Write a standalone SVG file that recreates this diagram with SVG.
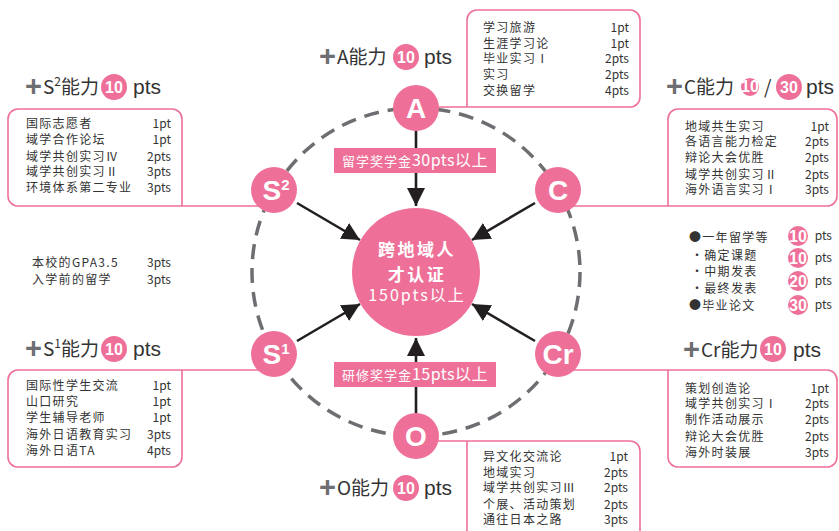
<svg xmlns="http://www.w3.org/2000/svg" width="839" height="531" viewBox="0 0 839 531">
<defs>
<marker id="ah" markerWidth="18" markerHeight="18" viewBox="0 0 18 18" refX="18" refY="9" orient="auto" markerUnits="userSpaceOnUse">
<path d="M0,0 L18,9 L0,18 Z" fill="#231f20"/>
</marker>
</defs>
<style>
text{font-family:"Noto Sans CJK SC","Liberation Sans",sans-serif;}
.pk{fill:#ee7099;}
.box{fill:none;stroke:#ee7099;stroke-width:1.6;}
.t{font-size:12px;fill:#333;letter-spacing:1.3px;}
.p{font-size:12px;fill:#333;text-anchor:end;}
.plus{font-size:29px;font-weight:bold;fill:#6d6e71;font-family:"Liberation Sans",sans-serif;}
.hd{font-size:19px;fill:#333;}
.pts{font-size:21px;fill:#333;font-family:"Liberation Sans",sans-serif;}
.num{font-size:16px;font-weight:bold;fill:#fff;text-anchor:middle;font-family:"Liberation Sans",sans-serif;}
.nl{font-size:28px;font-weight:bold;fill:#fff;text-anchor:middle;font-family:"Liberation Sans",sans-serif;}
.arr{stroke:#231f20;stroke-width:2.6;fill:none;marker-end:url(#ah);}
.lab{fill:#fff;font-size:13px;letter-spacing:1px;}
</style>
<rect width="839" height="531" fill="#fff"/>

<circle cx="416" cy="272" r="164" fill="none" stroke="#6d6e71" stroke-width="3.5" stroke-dasharray="15 9"/>

<g id="connectors">
<path class="box" d="M416,107 H630 A10,10 0 0 0 640,97 V20 A10,10 0 0 0 630,10 H477 A10,10 0 0 0 467,20 V107"/>
<path class="box" d="M274,206 H182 V119 A10,10 0 0 0 172,109 H18 A10,10 0 0 0 8,119 V196 A10,10 0 0 0 18,206 H182"/>
<path class="box" d="M558,206 H668 V119 A10,10 0 0 1 678,109 H827 A10,10 0 0 1 837,119 V196 A10,10 0 0 1 827,206 H668"/>
<path class="box" d="M274,370 H182 V457 A10,10 0 0 1 172,467 H18 A10,10 0 0 1 8,457 V380 A10,10 0 0 1 18,370 H182"/>
<path class="box" d="M558,370 H668 V457 A10,10 0 0 0 678,467 H827 A10,10 0 0 0 837,457 V380 A10,10 0 0 0 827,370 H668"/>
<path class="box" d="M416,441 H630 A10,10 0 0 1 640,451 V545 M467,441 V545"/>
<line class="arr" x1="416" y1="131" x2="416" y2="206"/>
<line class="arr" x1="416" y1="413" x2="416" y2="338"/>
<line class="arr" x1="297" y1="203" x2="360" y2="240"/>
<line class="arr" x1="535" y1="203" x2="472" y2="240"/>
<line class="arr" x1="297" y1="341" x2="360" y2="304"/>
<line class="arr" x1="535" y1="341" x2="472" y2="304"/>
</g>

<g id="center">
<circle class="pk" cx="416" cy="272" r="64"/>
<text x="417" y="256" text-anchor="middle" fill="#fff" font-size="17" font-weight="bold" letter-spacing="2.5">跨地域人</text>
<text x="417" y="281" text-anchor="middle" fill="#fff" font-size="17" font-weight="bold" letter-spacing="2.5">才认证</text>
<text x="417" y="301" text-anchor="middle" fill="#fff" font-size="16" letter-spacing="2">150pts以上</text>
</g>

<g id="label-top">
<rect class="pk" x="334" y="148" width="162" height="25"/>
<text x="415" y="166" text-anchor="middle" class="lab">留学奖学金<tspan font-size="16" letter-spacing="0.5">30pts以上</tspan></text>
</g>
<g id="label-bottom">
<rect class="pk" x="334" y="362" width="162" height="25"/>
<text x="415" y="380" text-anchor="middle" class="lab">研修奖学金<tspan font-size="16" letter-spacing="0.5">15pts以上</tspan></text>
</g>

<g id="node-A">
<circle class="pk" cx="416" cy="108" r="23"/>
<text class="nl" x="416" y="118">A</text>
</g>
<g id="node-S2">
<circle class="pk" cx="274" cy="190" r="23"/>
<text class="nl" x="276" y="200">S<tspan font-size="15" dy="-10">2</tspan></text>
</g>
<g id="node-C">
<circle class="pk" cx="558" cy="190" r="23"/>
<text class="nl" x="558" y="200">C</text>
</g>
<g id="node-S1">
<circle class="pk" cx="274" cy="354" r="23"/>
<text class="nl" x="276" y="364">S<tspan font-size="15" dy="-10">1</tspan></text>
</g>
<g id="node-Cr">
<circle class="pk" cx="558" cy="354" r="23"/>
<text class="nl" x="558" y="364">Cr</text>
</g>
<g id="node-O">
<circle class="pk" cx="416" cy="436" r="23"/>
<text class="nl" x="416" y="446">O</text>
</g>

<g id="header-A">
<text class="plus" x="319" y="66">+</text>
<text class="hd" x="337" y="64">A能力</text>
<circle class="pk" cx="406" cy="57" r="13"/>
<text class="num" x="406" y="63">10</text>
<text class="pts" x="424" y="64">pts</text>
</g>
<g id="box-A">
<text class="t" x="483" y="32">学习旅游</text><text class="p" x="629" y="32">1pt</text>
<text class="t" x="483" y="48">生涯学习论</text><text class="p" x="629" y="48">1pt</text>
<text class="t" x="483" y="63">毕业实习Ⅰ</text><text class="p" x="629" y="63">2pts</text>
<text class="t" x="483" y="79">实习</text><text class="p" x="629" y="79">2pts</text>
<text class="t" x="483" y="95">交换留学</text><text class="p" x="629" y="95">4pts</text>
</g>

<g id="header-S2">
<text class="plus" x="25" y="96">+</text>
<text class="hd" x="43" y="94">S<tspan font-size="12" dy="-8">2</tspan><tspan dy="8">能力</tspan></text>
<circle class="pk" cx="114" cy="87" r="13"/>
<text class="num" x="114" y="93">10</text>
<text class="pts" x="133" y="94">pts</text>
</g>
<g id="box-S2">
<text class="t" x="26" y="128">国际志愿者</text><text class="p" x="171" y="128">1pt</text>
<text class="t" x="26" y="144">域学合作论坛</text><text class="p" x="171" y="144">1pt</text>
<text class="t" x="26" y="161">域学共创实习Ⅳ</text><text class="p" x="171" y="161">2pts</text>
<text class="t" x="26" y="176">域学共创实习Ⅱ</text><text class="p" x="171" y="176">3pts</text>
<text class="t" x="26" y="192">环境体系第二专业</text><text class="p" x="171" y="192">3pts</text>
</g>

<g id="header-C">
<text class="plus" x="666" y="96">+</text>
<text class="hd" x="684" y="94" font-size="17.5">C能力</text>
<circle class="pk" cx="750" cy="87" r="9"/>
<text class="num" x="750" y="91.5" font-size="12">10</text>
<text class="hd" x="764" y="94" font-size="22">/</text>
<circle class="pk" cx="789" cy="87" r="13"/>
<text class="num" x="789" y="93">30</text>
<text class="pts" x="806" y="94">pts</text>
</g>
<g id="box-C">
<text class="t" x="685" y="131">地域共生实习</text><text class="p" x="829" y="131">1pt</text>
<text class="t" x="685" y="146">各语言能力检定</text><text class="p" x="829" y="146">2pts</text>
<text class="t" x="685" y="162">辩论大会优胜</text><text class="p" x="829" y="162">2pts</text>
<text class="t" x="685" y="179">域学共创实习Ⅱ</text><text class="p" x="829" y="179">2pts</text>
<text class="t" x="685" y="194">海外语言实习Ⅰ</text><text class="p" x="829" y="194">3pts</text>
</g>

<g id="list-C">
<text class="t" x="689" y="242">●一年留学等</text>
<text class="t" x="691" y="260">・确定课题</text>
<text class="t" x="691" y="276">・中期发表</text>
<text class="t" x="691" y="293">・最终发表</text>
<text class="t" x="689" y="310">●毕业论文</text>
<circle class="pk" cx="798" cy="236" r="10"/><text class="num" x="798" y="241.5" font-size="14">10</text><text class="p" x="832" y="240" font-size="13">pts</text>
<circle class="pk" cx="798" cy="258" r="10"/><text class="num" x="798" y="263.5" font-size="14">10</text><text class="p" x="832" y="262" font-size="13">pts</text>
<circle class="pk" cx="798" cy="281" r="10"/><text class="num" x="798" y="286.5" font-size="14">20</text><text class="p" x="832" y="285" font-size="13">pts</text>
<circle class="pk" cx="798" cy="305" r="10"/><text class="num" x="798" y="310.5" font-size="14">30</text><text class="p" x="832" y="309" font-size="13">pts</text>
</g>

<g id="list-left">
<text class="t" x="32" y="267">本校的GPA3.5</text><text class="p" x="171" y="267">3pts</text>
<text class="t" x="32" y="284">入学前的留学</text><text class="p" x="171" y="284">3pts</text>
</g>

<g id="header-S1">
<text class="plus" x="25" y="358">+</text>
<text class="hd" x="43" y="356">S<tspan font-size="12" dy="-8">1</tspan><tspan dy="8">能力</tspan></text>
<circle class="pk" cx="114" cy="349" r="13"/>
<text class="num" x="114" y="355">10</text>
<text class="pts" x="133" y="356">pts</text>
</g>
<g id="box-S1">
<text class="t" x="26" y="390">国际性学生交流</text><text class="p" x="171" y="390">1pt</text>
<text class="t" x="26" y="406">山口研究</text><text class="p" x="171" y="406">1pt</text>
<text class="t" x="26" y="422">学生辅导老师</text><text class="p" x="171" y="422">1pt</text>
<text class="t" x="26" y="439">海外日语教育实习</text><text class="p" x="171" y="439">3pts</text>
<text class="t" x="26" y="455">海外日语TA</text><text class="p" x="171" y="455">4pts</text>
</g>

<g id="header-Cr">
<text class="plus" x="683" y="359">+</text>
<text class="hd" x="701" y="357">Cr能力</text>
<circle class="pk" cx="773" cy="349" r="13"/>
<text class="num" x="773" y="355">10</text>
<text class="pts" x="793" y="357">pts</text>
</g>
<g id="box-Cr">
<text class="t" x="685" y="393">策划创造论</text><text class="p" x="829" y="393">1pt</text>
<text class="t" x="685" y="408">域学共创实习Ⅰ</text><text class="p" x="829" y="408">2pts</text>
<text class="t" x="685" y="424">制作活动展示</text><text class="p" x="829" y="424">2pts</text>
<text class="t" x="685" y="441">辩论大会优胜</text><text class="p" x="829" y="441">2pts</text>
<text class="t" x="685" y="457">海外时装展</text><text class="p" x="829" y="457">3pts</text>
</g>

<g id="header-O">
<text class="plus" x="319" y="497">+</text>
<text class="hd" x="337" y="495">O能力</text>
<circle class="pk" cx="406" cy="488" r="13"/>
<text class="num" x="406" y="494">10</text>
<text class="pts" x="424" y="495">pts</text>
</g>
<g id="box-O">
<text class="t" x="483" y="461">异文化交流论</text><text class="p" x="628" y="461">1pt</text>
<text class="t" x="483" y="477">地域实习</text><text class="p" x="628" y="477">2pts</text>
<text class="t" x="483" y="492">域学共创实习Ⅲ</text><text class="p" x="628" y="492">2pts</text>
<text class="t" x="483" y="509">个展、活动策划</text><text class="p" x="628" y="509">2pts</text>
<text class="t" x="483" y="524">通往日本之路</text><text class="p" x="628" y="524">3pts</text>
</g>
</svg>
